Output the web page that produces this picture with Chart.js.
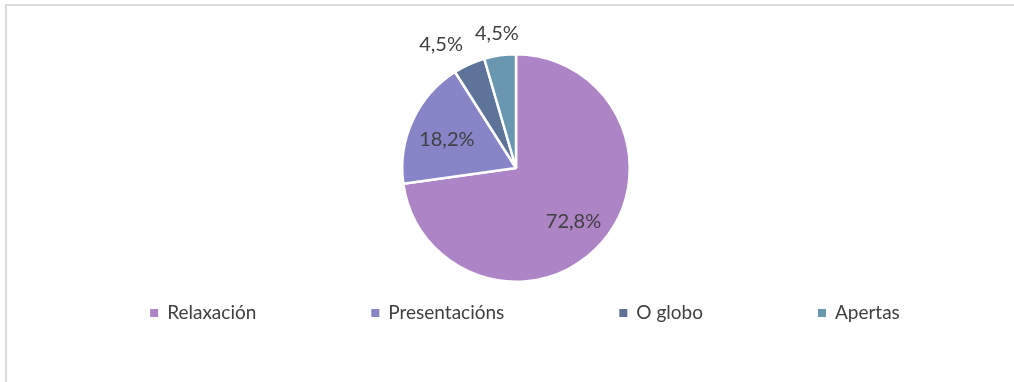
<!DOCTYPE html>
<html>
<head>
<meta charset="utf-8">
<script src="https://cdn.jsdelivr.net/npm/chart.js@4/dist/chart.umd.min.js"></script>
<style>
  body { margin: 0; background: #fff; overflow: hidden; }
  #frame { position: absolute; left: 5px; top: 4px; width: 1060px; height: 420px; border: 2px solid #dcdcdc; }
  #wrap { position: absolute; left: 0; top: 0; width: 1014px; height: 382px; }
</style>
</head>
<body>
<div id="frame"></div>
<div id="wrap"><canvas id="myChart"></canvas></div>
<script>
'use strict';

// data
let categories = ['Relaxación', 'Presentacións', 'O globo', 'Apertas'];
let shares = [72.8, 18.2, 4.5, 4.5];
let sliceColors = ['#ad84c6', '#8784c7', '#5d739a', '#6997af'];

let fontFamily = 'Lato, "Open Sans", sans-serif';
let textColor = '#404040';

// percent labels: big slices inside, small ones outside (pushed apart if they collide)
const sliceLabels = {
  id: 'sliceLabels',
  afterDatasetsDraw(chart) {
    let ctx = chart.ctx;
    let arcs = chart.getDatasetMeta(0).data;
    ctx.save();
    ctx.font = '20px ' + fontFamily;
    ctx.fillStyle = textColor;
    ctx.textBaseline = 'middle';
    ctx.textAlign = 'center';
    let outside = [];
    arcs.forEach((arc, i) => {
      let mid = (arc.startAngle + arc.endAngle) / 2;
      let text = shares[i].toFixed(1).replace('.', ',') + '%';
      let w = ctx.measureText(text).width;
      if (shares[i] > 10) {
        let r = arc.outerRadius * 0.67;
        ctx.fillText(text, arc.x + r * Math.cos(mid), arc.y + r * Math.sin(mid) + 4);
      } else {
        let r = arc.outerRadius + 22;
        outside.push({ text, w, x: arc.x + r * Math.cos(mid), y: arc.y + r * Math.sin(mid) });
      }
    });
    // walk from the right-most label leftwards, keep a small gap
    for (let i = outside.length - 2; i >= 0; i--) {
      let a = outside[i], b = outside[i + 1];
      let limit = b.x - b.w / 2 - 12;
      if (a.x + a.w / 2 > limit) a.x = limit - a.w / 2;
    }
    outside.forEach(l => ctx.fillText(l.text, l.x, l.y));
    ctx.restore();
  }
};

// Excel-like legend: spread out in one row under the pie
const rowLegend = {
  id: 'rowLegend',
  afterDraw(chart) {
    let ctx = chart.ctx;
    let box = 8, gapText = 9, gapItem = 115;
    ctx.save();
    ctx.font = '19px ' + fontFamily;
    let widths = categories.map(c => box + gapText + ctx.measureText(c).width);
    let total = widths.reduce((a, b) => a + b, 0) + gapItem * (categories.length - 1);
    let x = 525 - total / 2;
    let y = 313;
    ctx.textBaseline = 'middle';
    ctx.textAlign = 'left';
    categories.forEach((c, i) => {
      ctx.fillStyle = sliceColors[i];
      ctx.fillRect(x, y - box / 2, box, box);
      ctx.fillStyle = textColor;
      ctx.fillText(c, x + box + gapText, y);
      x += widths[i] + gapItem;
    });
    ctx.restore();
  }
};

const config = {
  type: 'pie',
  data: {
    labels: categories,
    datasets: [{
      data: shares,
      backgroundColor: sliceColors,
      borderColor: '#ffffff',
      borderWidth: 2.5
    }]
  },
  options: {
    responsive: true,
    maintainAspectRatio: false,
    animation: false,
    layout: { padding: { top: 53, bottom: 99, left: 18, right: 0 } },
    plugins: {
      legend: { display: false },
      tooltip: { enabled: false }
    }
  },
  plugins: [sliceLabels, rowLegend]
};

const myChart = new Chart(document.getElementById('myChart'), config);
</script>
</body>
</html>
